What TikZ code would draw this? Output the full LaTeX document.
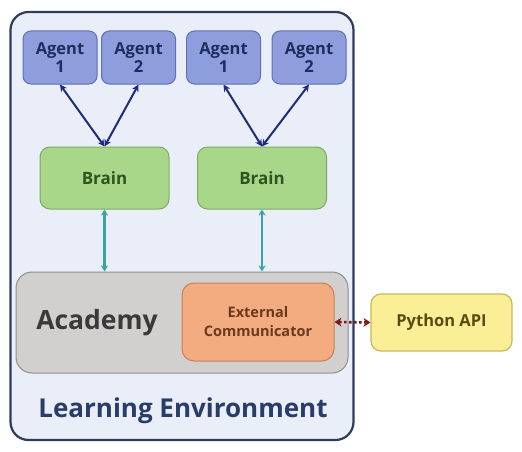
\documentclass[tikz,border=0pt]{standalone}
\usepackage{fontspec}
\setmainfont{Open Sans}
\usetikzlibrary{arrows.meta, calc}
\definecolor{envfill}{HTML}{E9EEF8}
\definecolor{envdraw}{HTML}{2E3D5C}
\definecolor{envtext}{HTML}{2A3C68}
\definecolor{agentfill}{HTML}{8E9EDC}
\definecolor{agentdraw}{HTML}{6070B0}
\definecolor{agenttext}{HTML}{1E2D5E}
\definecolor{brainfill}{HTML}{A8D78A}
\definecolor{braindraw}{HTML}{7DAA62}
\definecolor{braintext}{HTML}{2E5420}
\definecolor{acadfill}{HTML}{D2D0CF}
\definecolor{acaddraw}{HTML}{8E8E8E}
\definecolor{acadtext}{HTML}{3A3A3A}
\definecolor{extfill}{HTML}{F3AB80}
\definecolor{extdraw}{HTML}{C8805A}
\definecolor{exttext}{HTML}{6B3A1C}
\definecolor{pyfill}{HTML}{FAEE96}
\definecolor{pydraw}{HTML}{C9B85A}
\definecolor{pytext}{HTML}{5A4A12}
\definecolor{navyarrow}{HTML}{1F2C7A}
\definecolor{tealarrow}{HTML}{3AA3A3}
\definecolor{redarrow}{HTML}{7E1818}
\tikzset{
    my-env/.style={
        draw=envdraw, fill=envfill, line width=2.2pt, rounded corners=18pt,
        minimum width=343pt, minimum height=428pt
    },
    my-agent/.style={
        draw=agentdraw, fill=agentfill, line width=1pt, rounded corners=8pt, text=agenttext,
        minimum width=74pt, minimum height=53pt, align=center, inner sep=0pt,
        font=\fontsize{16.5}{18}\selectfont\bfseries
    },
    my-brain/.style={
        draw=braindraw, fill=brainfill, line width=1pt, rounded corners=10pt, text=braintext,
        minimum width=129pt, minimum height=62pt,
        font=\fontsize{17}{19}\selectfont\bfseries
    },
    my-academy/.style={
        draw=acaddraw, fill=acadfill, line width=1pt, rounded corners=16pt,
        minimum width=332pt, minimum height=101pt
    },
    my-extcomm/.style={
        draw=extdraw, fill=extfill, line width=1pt, rounded corners=12pt, text=exttext,
        minimum width=152pt, minimum height=78pt, align=center, inner sep=0pt,
        font=\fontsize{14.5}{19}\selectfont\bfseries
    },
    my-python/.style={
        draw=pydraw, fill=pyfill, line width=1.2pt, rounded corners=10pt, text=pytext,
        minimum width=141pt, minimum height=57pt,
        font=\fontsize{16.5}{18}\selectfont\bfseries
    },
    my-navy/.style={
        draw=navyarrow, line width=2pt, {Stealth[length=7pt,width=7pt]}-{Stealth[length=7pt,width=7pt]}
    },
    my-teal/.style={
        draw=tealarrow, line width=2.2pt, {Stealth[length=6pt,width=7pt]}-{Stealth[length=6pt,width=7pt]}
    },
    my-dotted/.style={
        draw=redarrow, line width=2.6pt, dash pattern=on 2.5pt off 2.5pt,
        {Stealth[length=7pt,width=9pt,line width=0pt]}-{Stealth[length=7pt,width=9pt,line width=0pt]}
    },
}
\begin{document}
\begin{tikzpicture}[x=1pt, y=-1pt]

        \useasboundingbox (0,0) rectangle (522,452);

        % LEARNING ENVIRONMENT
        \node[my-env] (ENV) at (182, 226) {};
        \node[text=envtext, font=\fontsize{26}{28}\selectfont\bfseries] (ENVLABEL) at (183, 411) {Learning Environment};

        % AGENTS
        \node[my-agent] (AGENT1A) at (60, 57.5)    {Agent\\1};
        \node[my-agent] (AGENT2A) at (138.5, 57.5) {Agent\\2};
        \node[my-agent] (AGENT1B) at (223.5, 57.5) {Agent\\1};
        \node[my-agent] (AGENT2B) at (309, 57.5)   {Agent\\2};

        % BRAINS
        \node[my-brain] (BRAIN1) at (104.5, 178) {Brain};
        \node[my-brain] (BRAIN2) at (262, 178)   {Brain};

        % ACADEMY AND EXTERNAL COMMUNICATOR
        \node[my-academy] (ACADEMY) at (182, 322.5) {};
        \node[text=acadtext, font=\fontsize{26.5}{28}\selectfont\bfseries] (ACADLABEL) at (97, 323) {Academy};
        \node[my-extcomm] (EXTCOMM) at (258, 322) {External\\Communicator};

        % PYTHON API
        \node[my-python] (PYTHON) at (441.5, 322.5) {Python API};

        % AGENT - BRAIN CONNECTIONS
        \draw[my-navy] (AGENT1A.south) -- (BRAIN1.north);
        \draw[my-navy] (AGENT2A.south) -- (BRAIN1.north);
        \draw[my-navy] (AGENT1B.south) -- (BRAIN2.north);
        \draw[my-navy] (AGENT2B.south) -- (BRAIN2.north);

        % BRAIN - ACADEMY CONNECTIONS
        \draw[my-teal] (BRAIN1.south) -- (BRAIN1.south |- ACADEMY.north);
        \draw[my-teal] (BRAIN2.south) -- (BRAIN2.south |- ACADEMY.north);

        % EXTERNAL CONNECTION
        \draw[my-dotted] (EXTCOMM.east) -- (PYTHON.west);

    \end{tikzpicture}
\end{document}
